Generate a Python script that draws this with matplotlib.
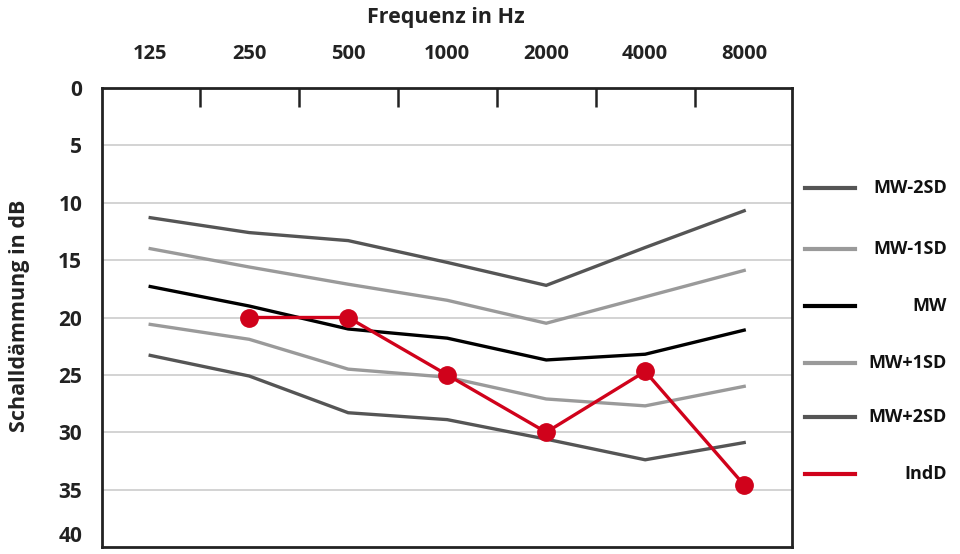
import matplotlib
matplotlib.use("Agg")
import matplotlib.pyplot as plt
from matplotlib.lines import Line2D
from matplotlib.ticker import FixedLocator
import numpy as np

plt.rcParams['font.family'] = ['Open Sans', 'DejaVu Sans']

freqs = ['125', '250', '500', '1000', '2000', '4000', '8000']
mw_m2sd = [11.3, 12.6, 13.3, 15.2, 17.2, 13.9, 10.7]
mw_m1sd = [14.0, 15.6, 17.1, 18.5, 20.5, 18.2, 15.9]
mw = [17.3, 19.0, 21.0, 21.8, 23.7, 23.2, 21.1]
mw_p1sd = [20.6, 21.9, 24.5, 25.2, 27.1, 27.7, 26.0]
mw_p2sd = [23.3, 25.1, 28.3, 28.9, 30.6, 32.4, 30.9]
indd = [np.nan, 20.0, 20.0, 25.0, 30.0, 24.7, 34.6]
y_ticks = [0, 5, 10, 15, 20, 25, 30, 35, 40]

series = [
    ('MW-2SD', mw_m2sd, '#555555'),
    ('MW-1SD', mw_m1sd, '#9a9a9a'),
    ('MW', mw, '#000000'),
    ('MW+1SD', mw_p1sd, '#9a9a9a'),
    ('MW+2SD', mw_p2sd, '#555555'),
]

W, H = 960, 554
fig = plt.figure(figsize=(W / 100, H / 100), dpi=100)
ax = fig.add_axes([101.7 / W, 1 - 547 / H, (791.7 - 101.7) / W, (547 - 88) / H])

x = np.arange(len(freqs))
for name, vals, col in series:
    ax.plot(x, vals, color=col, lw=2.4, solid_joinstyle='miter', zorder=3)
ax.plot(x, indd, color='#d0021b', lw=2.4, marker='o', markersize=12.5,
        zorder=4)

ax.set_xlim(-0.49, 6.48)
ax.set_ylim(40, 0)
ax.set_yticks(y_ticks)
ax.set_yticklabels([str(v) for v in y_ticks], fontsize=15, fontweight='bold',
                   color='#222222')
ax.get_yticklabels()[-1].set_va('bottom')
for yv in y_ticks[1:-1]:
    ax.axhline(yv, color='#cccccc', lw=1.2, zorder=1)

ax.xaxis.set_ticks_position('top')
ax.set_xticks(x)
ax.set_xticklabels(freqs, fontsize=14.5, fontweight='bold', color='#222222')
ax.xaxis.set_minor_locator(FixedLocator(np.arange(0.5, 6, 1.0)))
ax.tick_params(axis='x', which='major', length=0, pad=17)
ax.tick_params(axis='x', which='minor', top=True, bottom=False,
               direction='in', length=14, width=1.8, color='#222222')
ax.tick_params(axis='y', which='both', length=0, pad=14)

for sp in ax.spines.values():
    sp.set_linewidth(2.0)
    sp.set_color('#222222')

fig.text(446 / W, 1 - 17 / H, 'Frequenz in Hz', fontsize=15.5, fontweight='bold',
         ha='center', va='center', color='#222222')
fig.text(20 / W, 1 - 316 / H, 'Schalldämmung in dB', fontsize=15.5,
         fontweight='bold', rotation=90, ha='center', va='center',
         color='#222222')

# legend
leg_items = [(n, c) for n, _, c in series] + [('IndD', '#d0021b')]
leg_y = [188, 249, 306, 363, 417, 474]
for (name, col), yy in zip(leg_items, leg_y):
    fig.add_artist(Line2D([805 / W, 855 / W], [1 - yy / H, 1 - yy / H],
                          color=col, lw=3.0, transform=fig.transFigure))
    fig.text(947 / W, 1 - yy / H, name, fontsize=13, fontweight='bold',
             ha='right', va='center', color='#111111')

fig.savefig('out.png', dpi=100)
